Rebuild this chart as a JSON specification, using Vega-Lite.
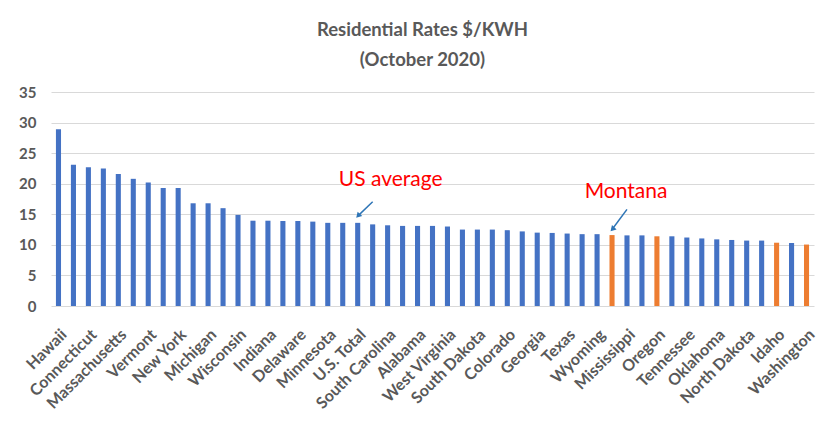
{
  "$schema": "https://vega.github.io/schema/vega-lite/v6.json",
  "width": 763,
  "height": 214,
  "autosize": {"type": "none"},
  "padding": {"left": 51, "top": 92, "right": 16, "bottom": 123},
  "background": "white",
  "title": {
    "text": ["Residential Rates $/KWH", "(October 2020)"],
    "font": "Lato",
    "fontSize": 18.5,
    "fontWeight": "bold",
    "color": "#595959",
    "lineHeight": 30,
    "anchor": "middle",
    "dx": -10,
    "offset": 16
  },
  "config": {
    "view": {"stroke": null},
    "font": "Lato",
    "axisY": {"tickCount": 8, "labelOverlap": false}
  },
  "datasets": {
    "rates": [
      {"state": "Hawaii", "rate": 28.9, "group": "other"},
      {"state": "Alaska", "rate": 23.1, "group": "other"},
      {"state": "Connecticut", "rate": 22.7, "group": "other"},
      {"state": "Rhode Island", "rate": 22.5, "group": "other"},
      {"state": "Massachusetts", "rate": 21.6, "group": "other"},
      {"state": "California", "rate": 20.8, "group": "other"},
      {"state": "Vermont", "rate": 20.2, "group": "other"},
      {"state": "New Hampshire", "rate": 19.3, "group": "other"},
      {"state": "New York", "rate": 19.3, "group": "other"},
      {"state": "Maine", "rate": 16.8, "group": "other"},
      {"state": "Michigan", "rate": 16.8, "group": "other"},
      {"state": "New Jersey", "rate": 16.0, "group": "other"},
      {"state": "Wisconsin", "rate": 14.9, "group": "other"},
      {"state": "Pennsylvania", "rate": 13.95, "group": "other"},
      {"state": "Indiana", "rate": 13.95, "group": "other"},
      {"state": "Maryland", "rate": 13.9, "group": "other"},
      {"state": "Delaware", "rate": 13.9, "group": "other"},
      {"state": "District of Columbia", "rate": 13.8, "group": "other"},
      {"state": "Minnesota", "rate": 13.6, "group": "other"},
      {"state": "Kansas", "rate": 13.6, "group": "other"},
      {"state": "U.S. Total", "rate": 13.6, "group": "other"},
      {"state": "Ohio", "rate": 13.35, "group": "other"},
      {"state": "South Carolina", "rate": 13.2, "group": "other"},
      {"state": "Iowa", "rate": 13.1, "group": "other"},
      {"state": "Alabama", "rate": 13.1, "group": "other"},
      {"state": "New Mexico", "rate": 13.1, "group": "other"},
      {"state": "West Virginia", "rate": 13.0, "group": "other"},
      {"state": "Illinois", "rate": 12.5, "group": "other"},
      {"state": "South Dakota", "rate": 12.5, "group": "other"},
      {"state": "Florida", "rate": 12.5, "group": "other"},
      {"state": "Colorado", "rate": 12.4, "group": "other"},
      {"state": "Arizona", "rate": 12.2, "group": "other"},
      {"state": "Georgia", "rate": 12.0, "group": "other"},
      {"state": "Missouri", "rate": 11.95, "group": "other"},
      {"state": "Texas", "rate": 11.85, "group": "other"},
      {"state": "Virginia", "rate": 11.75, "group": "other"},
      {"state": "Wyoming", "rate": 11.75, "group": "other"},
      {"state": "Montana", "rate": 11.6, "group": "northwest"},
      {"state": "Mississippi", "rate": 11.55, "group": "other"},
      {"state": "Nevada", "rate": 11.55, "group": "other"},
      {"state": "Oregon", "rate": 11.4, "group": "northwest"},
      {"state": "North Carolina", "rate": 11.4, "group": "other"},
      {"state": "Tennessee", "rate": 11.2, "group": "other"},
      {"state": "Kentucky", "rate": 11.05, "group": "other"},
      {"state": "Oklahoma", "rate": 10.9, "group": "other"},
      {"state": "Nebraska", "rate": 10.8, "group": "other"},
      {"state": "North Dakota", "rate": 10.7, "group": "other"},
      {"state": "Utah", "rate": 10.7, "group": "other"},
      {"state": "Idaho", "rate": 10.35, "group": "northwest"},
      {"state": "Louisiana", "rate": 10.3, "group": "other"},
      {"state": "Washington", "rate": 10.05, "group": "northwest"}
    ],
    "notes": [
      {"state": "U.S. Total", "rate": 19.6, "label": "US average"},
      {"state": "Montana", "rate": 17.7, "label": "Montana"}
    ],
    "arrows": [
      {"tip": "U.S. Total", "tail": "Ohio", "tipRate": 14.7, "tailRate": 17.05},
      {"tip": "Montana", "tail": "Mississippi", "tipRate": 12.5, "tailRate": 15.8}
    ]
  },
  "layer": [
    {
      "data": {"name": "rates"},
      "mark": {"type": "bar", "width": {"band": 0.34}},
      "encoding": {
        "x": {
          "field": "state",
          "type": "nominal",
          "sort": null,
          "scale": {"paddingInner": 0, "paddingOuter": 0},
          "axis": {
            "title": null,
            "values": ["Hawaii", "Connecticut", "Massachusetts", "Vermont", "New York", "Michigan", "Wisconsin", "Indiana", "Delaware", "Minnesota", "U.S. Total", "South Carolina", "Alabama", "West Virginia", "South Dakota", "Colorado", "Georgia", "Texas", "Wyoming", "Mississippi", "Oregon", "Tennessee", "Oklahoma", "North Dakota", "Idaho", "Washington"],
            "labelAngle": -45,
            "labelFont": "Lato",
            "labelFontSize": 16,
            "labelFontWeight": "bold",
            "labelColor": "#595959",
            "labelPadding": 20,
            "ticks": false,
            "domain": false,
            "labelOverlap": false
          }
        },
        "y": {
          "field": "rate",
          "type": "quantitative",
          "scale": {"domain": [0, 35]},
          "axis": {
            "title": null,
            "values": [0, 5, 10, 15, 20, 25, 30, 35],
            "labelOverlap": false,
            "labelFont": "Lato",
            "labelFontSize": 15,
            "labelFontWeight": "bold",
            "labelColor": "#595959",
            "labelPadding": 15,
            "ticks": false,
            "domain": false,
            "gridColor": "#D9D9D9",
            "gridWidth": 1
          }
        },
        "color": {
          "field": "group",
          "type": "nominal",
          "scale": {"domain": ["other", "northwest"], "range": ["#4472C4", "#ED7D31"]},
          "legend": null
        }
      }
    },
    {
      "data": {"name": "notes"},
      "transform": [{"filter": "datum.label === 'US average'"}],
      "mark": {"type": "text", "font": "Lato", "fontSize": 21, "color": "#FF0000", "align": "center", "baseline": "alphabetic", "dx": 33},
      "encoding": {
        "x": {"field": "state", "type": "nominal", "sort": null},
        "y": {"field": "rate", "type": "quantitative"},
        "text": {"field": "label"}
      }
    },
    {
      "data": {"name": "notes"},
      "transform": [{"filter": "datum.label === 'Montana'"}],
      "mark": {"type": "text", "font": "Lato", "fontSize": 21, "color": "#FF0000", "align": "center", "baseline": "alphabetic", "dx": 14},
      "encoding": {
        "x": {"field": "state", "type": "nominal", "sort": null},
        "y": {"field": "rate", "type": "quantitative"},
        "text": {"field": "label"}
      }
    },
    {
      "data": {"name": "arrows"},
      "mark": {"type": "rule", "color": "#2E75B6", "strokeWidth": 1.5},
      "encoding": {
        "x": {"field": "tail", "type": "nominal", "sort": null},
        "x2": {"field": "tip"},
        "y": {"field": "tailRate", "type": "quantitative"},
        "y2": {"field": "tipRate"}
      }
    },
    {
      "data": {"name": "arrows"},
      "mark": {"type": "point", "shape": "triangle", "angle": 223, "filled": true, "color": "#2E75B6", "size": 40, "opacity": 1, "xOffset": 1, "yOffset": -1},
      "encoding": {
        "x": {"field": "tip", "type": "nominal", "sort": null},
        "y": {"field": "tipRate", "type": "quantitative"}
      }
    }
  ]
}
